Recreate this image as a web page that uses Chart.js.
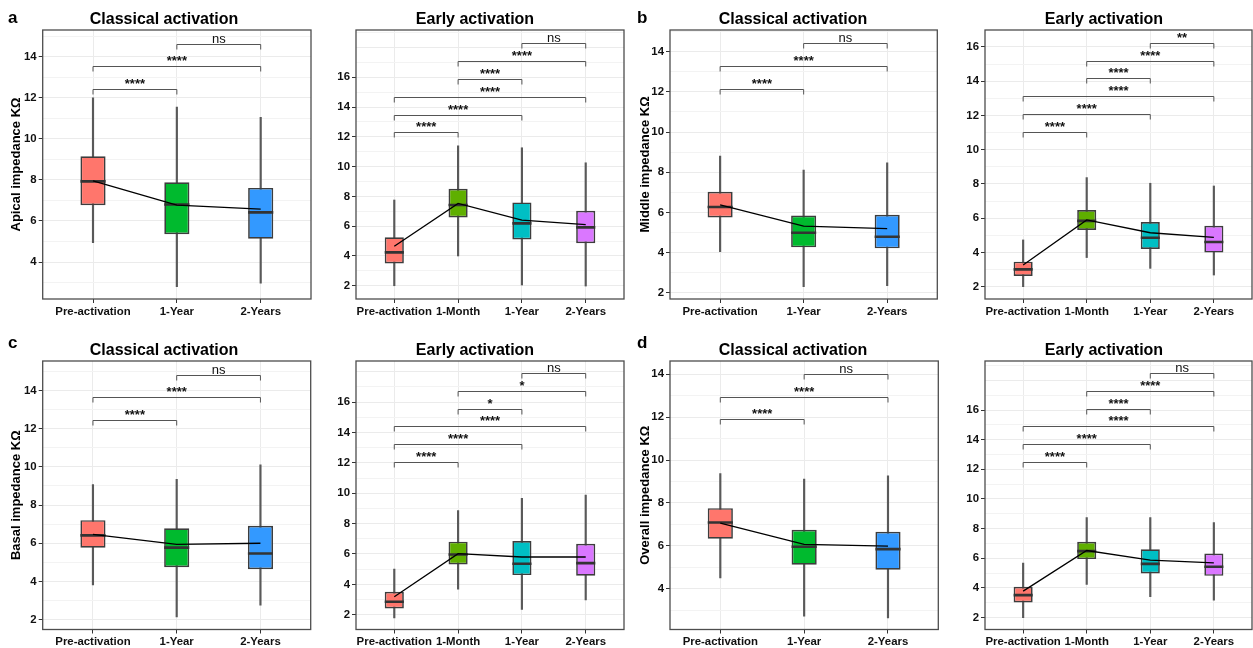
<!DOCTYPE html>
<html>
<head>
<meta charset="utf-8">
<script src="https://cdn.jsdelivr.net/npm/chart.js@4.4.0/dist/chart.umd.min.js"></script>
<style>
  body { margin: 0; background: #fff; width: 1253px; height: 648px; position: relative; overflow: hidden; font-family: 'Liberation Sans', Arial, sans-serif; }
  canvas { position: absolute; }
  .ttl { position: absolute; width: 300px; text-align: center; font-size: 16px; font-weight: bold; line-height: 20px; color: #000; }
  .tag { position: absolute; font-size: 17px; font-weight: bold; line-height: 20px; color: #000; }
</style>
</head>
<body>
<script>
const fam = "'Liberation Sans', Arial, sans-serif";

// categories
const catsClassical = ['Pre-activation', '1-Year', '2-Years'];
const catsEarly = ['Pre-activation', '1-Month', '1-Year', '2-Years'];

// box values per group: [lower whisker, Q1, median, Q3, upper whisker]
const apicalClassicalBox = [[4.94, 6.77, 7.93, 9.15, 12.0], [2.8, 5.35, 6.8, 7.88, 11.55], [2.97, 5.14, 6.42, 7.61, 11.05]];
const apicalClassicalMean = [7.95, 6.77, 6.58];
const apicalEarlyBox = [[2.0, 3.5, 4.24, 5.25, 7.76], [4.0, 6.59, 7.42, 8.51, 11.4], [2.05, 5.11, 6.19, 7.6, 11.27], [1.98, 4.85, 5.92, 7.04, 10.26]];
const apicalEarlyMean = [4.65, 7.53, 6.41, 6.11];

const middleClassicalBox = [[4.04, 5.75, 6.27, 7.03, 8.81], [2.3, 4.26, 4.99, 5.85, 8.11], [2.35, 4.21, 4.79, 5.88, 8.47]];
const middleClassicalMean = [6.37, 5.32, 5.19];
const middleEarlyBox = [[2.0, 2.62, 3.01, 3.46, 4.73], [3.7, 5.31, 5.84, 6.48, 8.37], [3.07, 4.2, 4.86, 5.78, 8.04], [2.68, 3.99, 4.61, 5.56, 7.88]];
const middleEarlyMean = [3.27, 5.9, 5.15, 4.88];

const basalClassicalBox = [[3.82, 5.77, 6.41, 7.21, 9.07], [2.14, 4.74, 5.77, 6.78, 9.35], [2.75, 4.64, 5.46, 6.92, 10.11]];
const basalClassicalMean = [6.46, 5.94, 6.0];
const basalEarlyBox = [[1.8, 2.42, 2.86, 3.51, 5.0], [3.69, 5.31, 5.97, 6.81, 8.85], [2.35, 4.61, 5.36, 6.85, 9.66], [2.97, 4.57, 5.4, 6.67, 9.88]];
const basalEarlyMean = [3.18, 6.02, 5.8, 5.8];

const overallClassicalBox = [[4.51, 6.34, 7.09, 7.76, 9.37], [2.73, 5.13, 5.96, 6.75, 9.11], [2.65, 4.89, 5.85, 6.66, 9.26]];
const overallClassicalMean = [7.06, 6.07, 5.99];
const overallEarlyBox = [[1.98, 3.01, 3.51, 4.07, 5.67], [4.23, 5.94, 6.48, 7.11, 8.75], [3.4, 4.97, 5.62, 6.61, 8.75], [3.17, 4.81, 5.42, 6.32, 8.41]];
const overallEarlyMean = [3.78, 6.52, 5.87, 5.69];

// pairwise comparisons and their labels
const classicalPairs = [[0, 1], [0, 2], [1, 2]];
const earlyPairs = [[0, 1], [0, 2], [0, 3], [1, 2], [1, 3], [2, 3]];
const classicalSig = ['****', '****', 'ns'];
const apicalEarlySig = ['****', '****', '****', '****', '****', 'ns'];
const middleEarlySig = ['****', '****', '****', '****', '****', '**'];
const basalEarlySig = ['****', '****', '****', '*', '*', 'ns'];
const overallEarlySig = ['****', '****', '****', '****', '****', 'ns'];

const colorsClassical = ['#FF766C', '#00BA2E', '#3399FF'];
const colorsEarly = ['#FF766C', '#5FAF00', '#00BFC4', '#DA77FF'];

const BOX_W = 0.3;

const panels = [
  { cats: catsClassical, box: apicalClassicalBox, mean: apicalClassicalMean, pairs: classicalPairs, sig: classicalSig, colors: colorsClassical,
    ytitle: 'Apical impedance KΩ', title: 'Classical activation', tag: 'a', tagX: 8, titleC: 164,
    left: 0, top: 0, w: 318, h: 323, yw: 42.7, rp: 7, pt: 30, xh: 24, ymin: 2.2, ymax: 15.3, sigBase: 12.41, sigStep: 1.115 },
  { cats: catsEarly, box: apicalEarlyBox, mean: apicalEarlyMean, pairs: earlyPairs, sig: apicalEarlySig, colors: colorsEarly,
    ytitle: '', title: 'Early activation', titleC: 475,
    left: 318, top: 0, w: 310, h: 323, yw: 38, rp: 4, pt: 30, xh: 24, ymin: 1.11, ymax: 19.18, sigBase: 12.3, sigStep: 1.2 },
  { cats: catsClassical, box: middleClassicalBox, mean: middleClassicalMean, pairs: classicalPairs, sig: classicalSig, colors: colorsClassical,
    ytitle: 'Middle impedance KΩ', title: 'Classical activation', tag: 'b', tagX: 637, titleC: 793,
    left: 628, top: 0, w: 315, h: 323, yw: 42, rp: 5.7, pt: 30, xh: 24, ymin: 1.69, ymax: 15.08, sigBase: 12.16, sigStep: 1.14 },
  { cats: catsEarly, box: middleEarlyBox, mean: middleEarlyMean, pairs: earlyPairs, sig: middleEarlySig, colors: colorsEarly,
    ytitle: '', title: 'Early activation', titleC: 1104,
    left: 943, top: 0, w: 310, h: 323, yw: 42, rp: 1, pt: 30, xh: 24, ymin: 1.28, ymax: 16.99, sigBase: 11.02, sigStep: 1.047 },
  { cats: catsClassical, box: basalClassicalBox, mean: basalClassicalMean, pairs: classicalPairs, sig: classicalSig, colors: colorsClassical,
    ytitle: 'Basal impedance KΩ', title: 'Classical activation', tag: 'c', tagX: 8, titleC: 164,
    left: 0, top: 325, w: 318, h: 323, yw: 42.7, rp: 7.3, pt: 36, xh: 18.5, ymin: 1.48, ymax: 15.55, sigBase: 12.44, sigStep: 1.2 },
  { cats: catsEarly, box: basalEarlyBox, mean: basalEarlyMean, pairs: earlyPairs, sig: basalEarlySig, colors: colorsEarly,
    ytitle: '', title: 'Early activation', titleC: 475,
    left: 318, top: 325, w: 310, h: 323, yw: 38, rp: 4, pt: 36, xh: 18.5, ymin: 1.03, ymax: 18.7, sigBase: 12.07, sigStep: 1.164 },
  { cats: catsClassical, box: overallClassicalBox, mean: overallClassicalMean, pairs: classicalPairs, sig: classicalSig, colors: colorsClassical,
    ytitle: 'Overall impedance KΩ', title: 'Classical activation', tag: 'd', tagX: 637, titleC: 793,
    left: 628, top: 325, w: 315, h: 323, yw: 42, rp: 4.7, pt: 36, xh: 18.5, ymin: 2.11, ymax: 14.61, sigBase: 11.89, sigStep: 1.065 },
  { cats: catsEarly, box: overallEarlyBox, mean: overallEarlyMean, pairs: earlyPairs, sig: overallEarlySig, colors: colorsEarly,
    ytitle: '', title: 'Early activation', titleC: 1104,
    left: 943, top: 325, w: 310, h: 323, yw: 42, rp: 1, pt: 36, xh: 18.5, ymin: 1.19, ymax: 19.31, sigBase: 12.51, sigStep: 1.194 }
];

function addText(cls, text, x, y) {
  const d = document.createElement('div');
  d.className = cls;
  d.textContent = text;
  d.style.left = x + 'px';
  d.style.top = y + 'px';
  document.body.appendChild(d);
}

function makePanel(p) {
  const cv = document.createElement('canvas');
  cv.width = p.w;
  cv.height = p.h;
  cv.style.left = p.left + 'px';
  cv.style.top = p.top + 'px';
  document.body.appendChild(cv);

  addText('ttl', p.title, p.titleC - 150, p.top + (p.pt - 11.7) - 9.8);
  if (p.tag) addText('tag', p.tag, p.tagX, p.top + 8);

  const n = p.cats.length;
  const medianPts = [];
  p.box.forEach((b, i) => {
    medianPts.push({ x: i - BOX_W / 2, y: b[2] }, { x: i + BOX_W / 2, y: b[2] }, { x: i + 0.5, y: null });
  });

  // brackets + panel border
  const extras = {
    id: 'extras' + p.left + '_' + p.top,
    afterDatasetsDraw(chart) {
      const { ctx, chartArea: a, scales: { x, y } } = chart;
      ctx.save();
      ctx.lineWidth = 1;
      ctx.strokeStyle = '#555';
      ctx.fillStyle = '#111';
      ctx.textAlign = 'center';
      ctx.textBaseline = 'alphabetic';
      p.pairs.forEach((pr, k) => {
        const x1 = x.getPixelForValue(pr[0]);
        const x2 = x.getPixelForValue(pr[1]);
        const py = Math.round(y.getPixelForValue(p.sigBase + k * p.sigStep)) + 0.5;
        ctx.beginPath();
        ctx.moveTo(x1, py + 5);
        ctx.lineTo(x1, py);
        ctx.lineTo(x2, py);
        ctx.lineTo(x2, py + 5);
        ctx.stroke();
        ctx.font = (p.sig[k] === 'ns' ? '' : 'bold ') + '13px ' + fam;
        ctx.fillText(p.sig[k], (x1 + x2) / 2, py - 2);
      });
      ctx.strokeStyle = '#4d4d4d';
      ctx.lineWidth = 1.3;
      ctx.strokeRect(a.left, a.top, a.right - a.left, a.bottom - a.top);
      ctx.restore();
    }
  };

  const isLabel = v => v % 2 === 0 && v <= 16;

  new Chart(cv, {
    type: 'bar',
    data: {
      datasets: [
        { type: 'line', data: p.mean.map((m, i) => ({ x: i, y: m })), borderColor: '#000', borderWidth: 1.3, pointRadius: 0, order: 0 },
        { type: 'line', data: medianPts, borderColor: '#333', borderWidth: 2.6, pointRadius: 0, spanGaps: false, order: 1 },
        { type: 'bar', data: p.box.map((b, i) => ({ x: i, y: [b[1], b[3]] })), backgroundColor: p.colors, borderColor: '#3d3d3d',
          borderWidth: 1.7, borderSkipped: false, grouped: false, barPercentage: BOX_W, categoryPercentage: 1, order: 2 },
        { type: 'bar', data: p.box.map((b, i) => ({ x: i, y: [b[0], b[4]] })), backgroundColor: '#595959',
          barThickness: 1.5, grouped: false, order: 3 }
      ]
    },
    options: {
      responsive: false,
      animation: false,
      devicePixelRatio: 1,
      layout: { padding: { top: p.pt, right: p.rp, bottom: 0, left: 0 } },
      plugins: { legend: { display: false }, tooltip: { enabled: false }, title: { display: false } },
      scales: {
        x: {
          type: 'linear', offset: false, min: -0.6, max: n - 0.4,
          afterBuildTicks: s => { s.ticks = p.cats.map((c, i) => ({ value: i })); },
          afterFit: s => { s.height = p.xh; },
          ticks: { callback: (v, i) => p.cats[i], autoSkip: false, maxRotation: 0, padding: 2, color: '#111',
            font: { family: fam, size: 11.4, weight: 'bold' } },
          grid: { offset: false, color: '#ebebeb', tickColor: '#333', tickLength: 4 },
          border: { display: false }
        },
        y: {
          min: p.ymin, max: p.ymax,
          afterBuildTicks: s => {
            const t = [];
            for (let v = Math.ceil(p.ymin); v <= p.ymax; v++) t.push({ value: v });
            s.ticks = t;
          },
          afterFit: s => { s.width = p.yw; },
          ticks: { callback: v => isLabel(v) ? v : '', autoSkip: false, padding: 2, color: '#111',
            font: { family: fam, size: 11.4, weight: 'bold' } },
          grid: {
            offset: false,
            color: c => (c.tick && c.tick.value % 2 === 0) ? '#ebebeb' : '#f3f3f3',
            tickColor: c => (c.tick && isLabel(c.tick.value)) ? '#333' : 'rgba(0,0,0,0)',
            tickLength: 4
          },
          border: { display: false },
          title: { display: !!p.ytitle, text: p.ytitle, color: '#000', padding: { top: p.left === 0 ? 8.2 : 9.2, bottom: 0 },
            font: { family: fam, size: 13, weight: 'bold' } }
        }
      }
    },
    plugins: [extras]
  });
}

panels.forEach(makePanel);
</script>
</body>
</html>
